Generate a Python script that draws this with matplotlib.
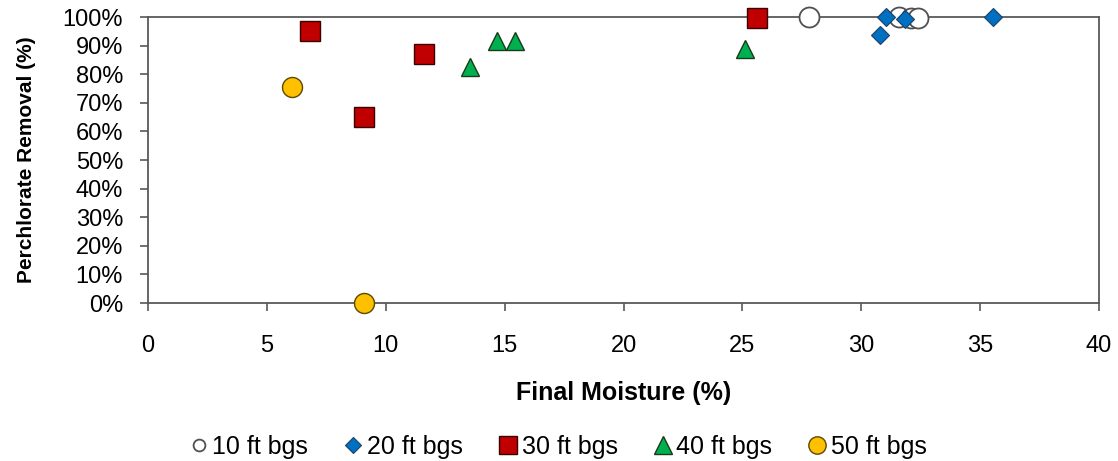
import matplotlib
matplotlib.use("Agg")
import matplotlib.pyplot as plt
from matplotlib.ticker import FuncFormatter

plt.rcParams['font.family'] = ['Liberation Sans', 'DejaVu Sans']

x10 = [27.8, 31.6, 32.1, 32.4]
y10 = [100, 100, 99.5, 99.5]
x20 = [30.8, 31.05, 31.85, 35.55]
y20 = [93.7, 100, 99.4, 100]
x30 = [6.8, 9.1, 11.6, 25.6]
y30 = [95.1, 65, 87, 99.7]
x40 = [13.55, 14.7, 15.45, 25.1]
y40 = [82.5, 91.6, 91.6, 88.8]
x50 = [6.06, 9.1]
y50 = [75.5, 0]
labels = ['10 ft bgs', '20 ft bgs', '30 ft bgs', '40 ft bgs', '50 ft bgs']

W, H = 1118, 461
fig = plt.figure(figsize=(W/100, H/100), dpi=100)
ax = fig.add_axes([148/W, 1-303/H, (1099-148)/W, (303-17)/H])

ax.plot(x10, y10, 'o', ms=14.4, mfc='white', mec='#505050', mew=1.3, label=labels[0], clip_on=False, zorder=3)
ax.plot(x20, y20, 'D', ms=9.5, mfc='#0070C0', mec='#1F3F66', mew=0.8, label=labels[1], clip_on=False, zorder=3)
ax.plot(x30, y30, 's', ms=14.2, mfc='#C00000', mec='#3a0000', mew=1.0, label=labels[2], clip_on=False, zorder=3)
ax.plot(x40, y40, '^', ms=13.5, mfc='#00B050', mec='#1a3a1a', mew=1.0, label=labels[3], clip_on=False, zorder=3)
ax.plot(x50, y50, 'o', ms=14.4, mfc='#FFC000', mec='#5a4a00', mew=1.0, label=labels[4], clip_on=False, zorder=3)

ax.set_xlim(0, 40)
ax.set_ylim(0, 100)
ax.set_xticks(range(0, 41, 5))
ax.set_yticks(range(0, 101, 10))
ax.yaxis.set_major_formatter(FuncFormatter(lambda v, p: f"{int(v)}%"))
for s in ax.spines.values():
    s.set_color('#595959')
    s.set_linewidth(1.3)
ax.tick_params(axis='both', direction='out', length=6, width=1.2, color='#595959', labelsize=17, colors='black')
ax.tick_params(axis='x', pad=17)
ax.tick_params(axis='y', pad=12)

fig.text(624/W, 1-400/H, 'Final Moisture (%)', fontsize=18, fontweight='bold',
         ha='center', va='baseline')
fig.text(32/W, 1-160/H, 'Perchlorate Removal (%)', fontsize=15, fontweight='bold',
         ha='center', va='baseline', rotation=90, rotation_mode='anchor')

leg = fig.legend(loc='lower center', bbox_to_anchor=(0.5, -0.045), ncol=5, frameon=False,
                 fontsize=18, handlelength=0.6, handletextpad=0.25, columnspacing=1.5)
for h, ms in zip(leg.legend_handles, [8.5, 8.0, 12.5, 13.5, 12.5]):
    h.set_markersize(ms)

fig.savefig('out.png', dpi=100)
